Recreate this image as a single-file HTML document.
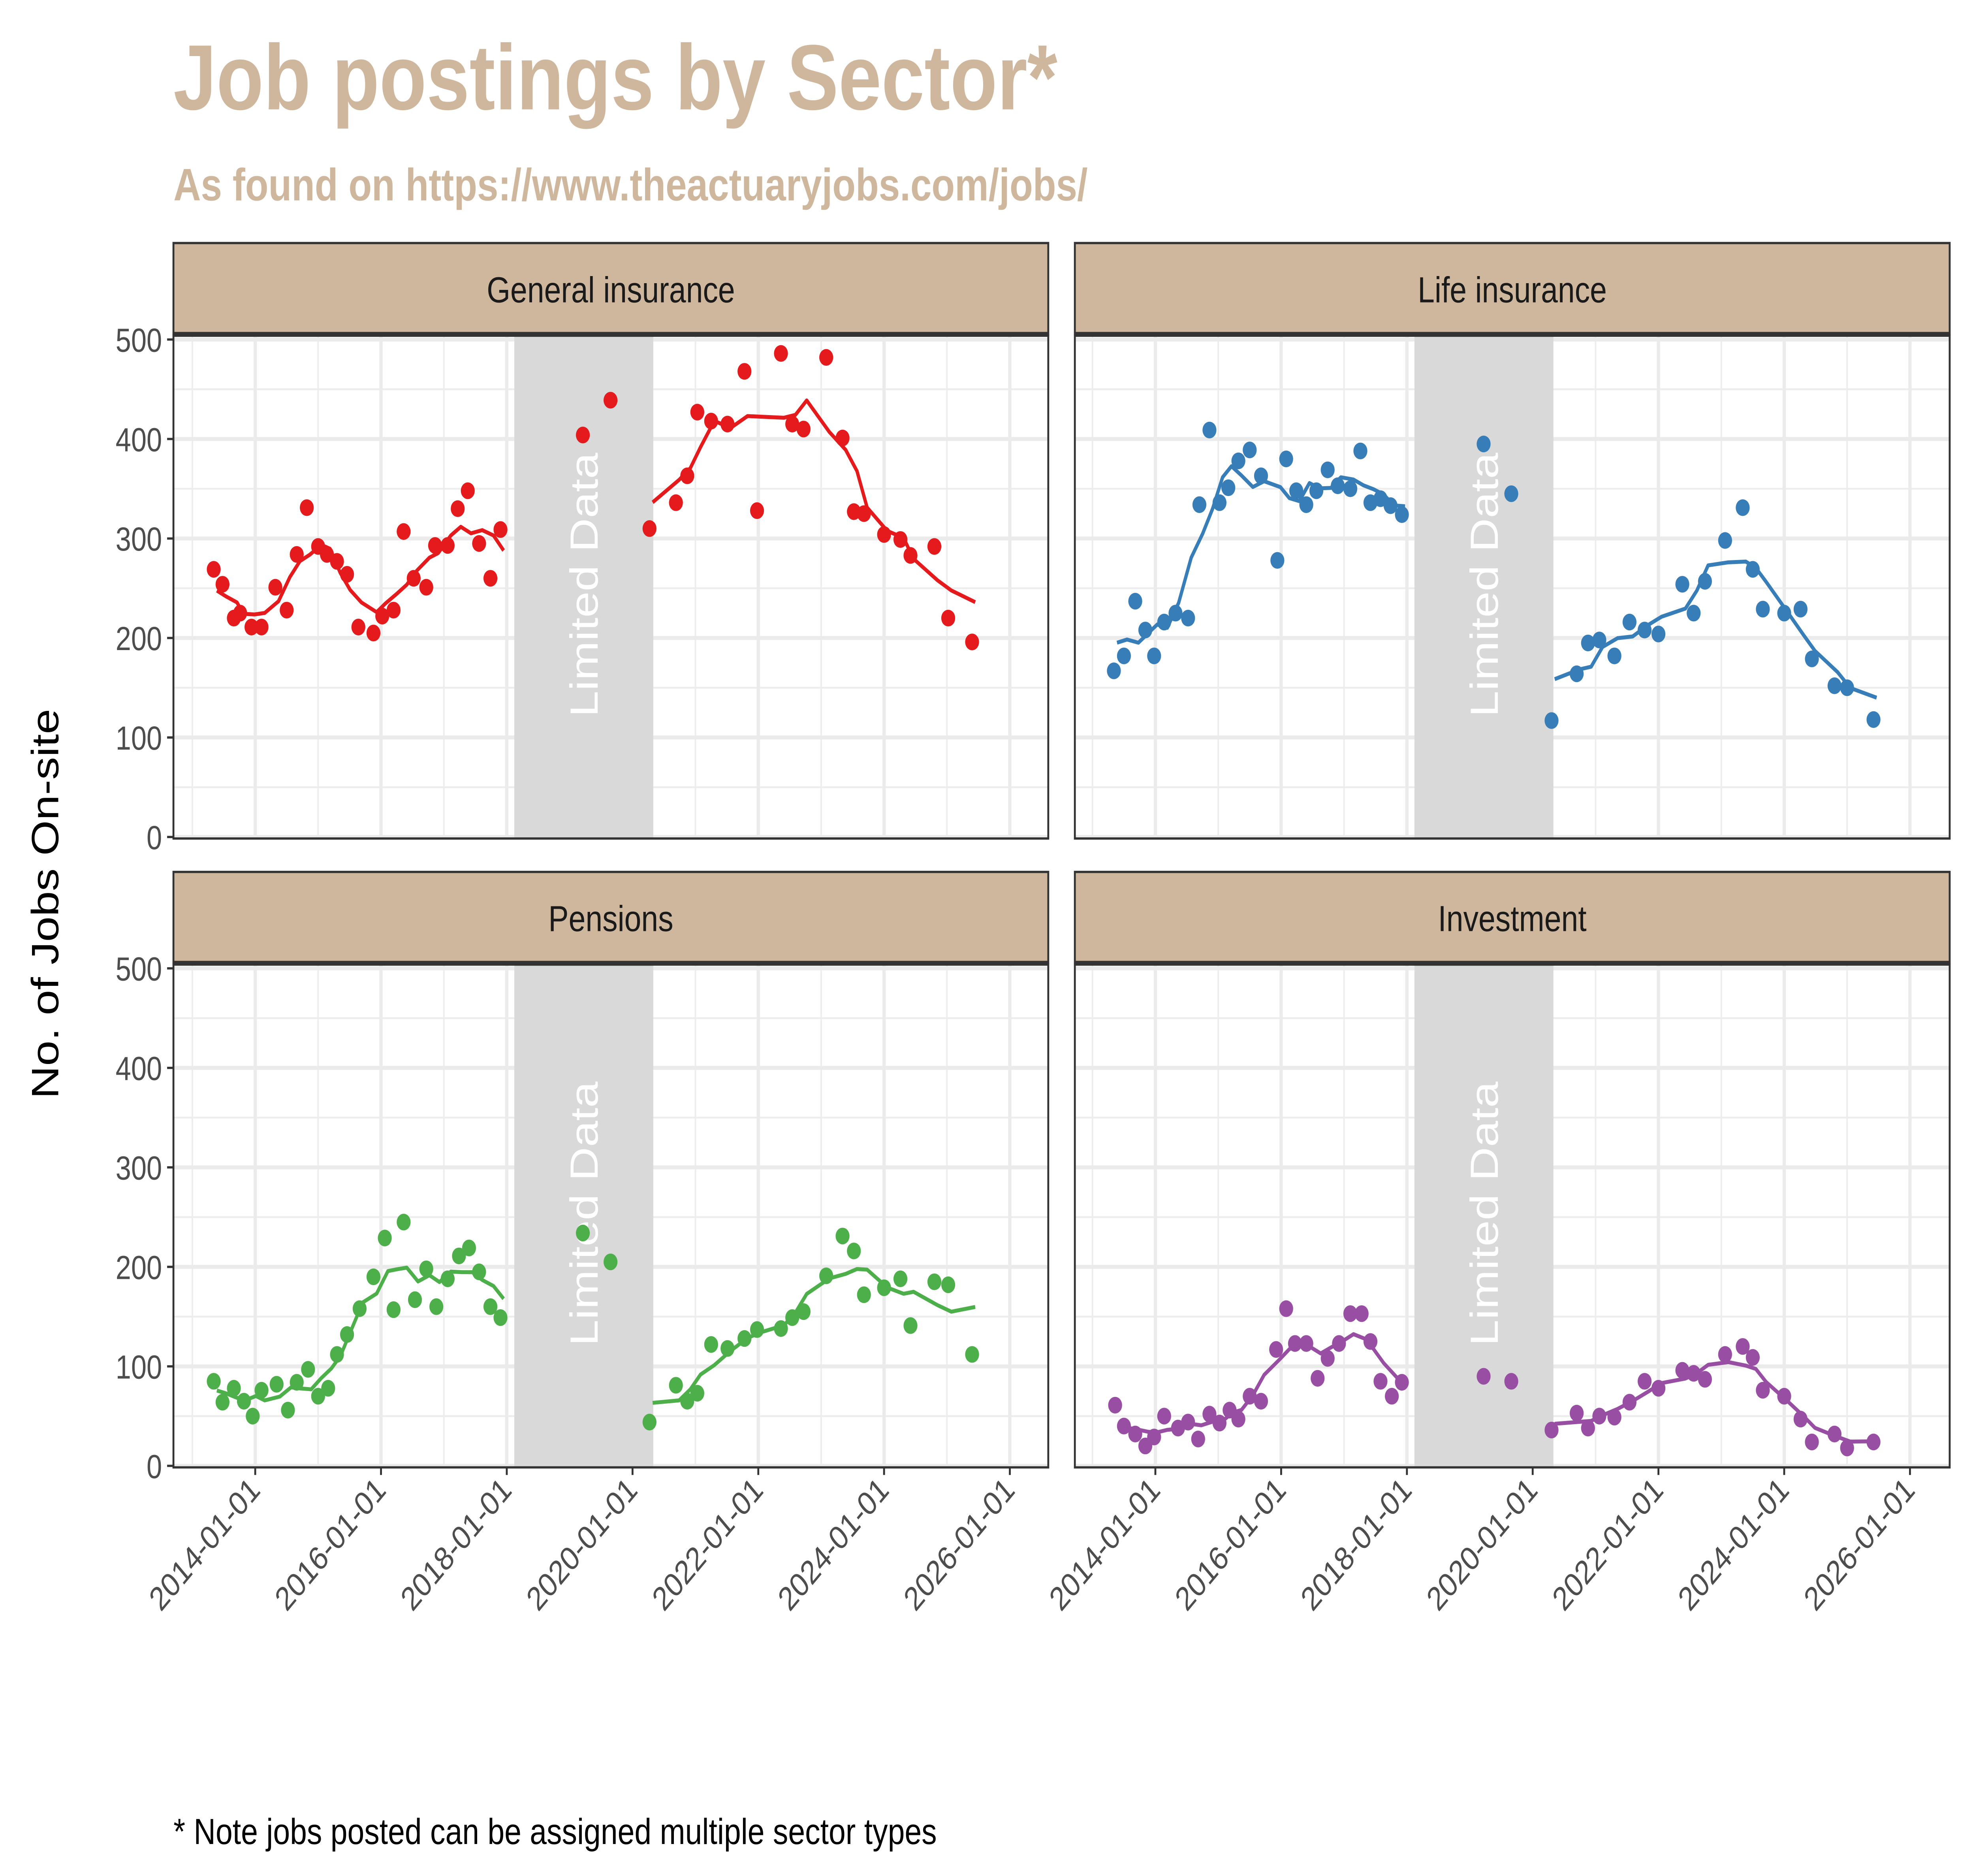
<!DOCTYPE html>
<html><head><meta charset="utf-8"><style>
html,body{margin:0;padding:0;background:#fff;overflow:hidden;}
svg{display:block;width:100vw;height:100vh;}
text{font-family:"Liberation Sans",Arial,sans-serif;}
</style></head><body>
<svg id="chart" viewBox="0 0 1560 1235" preserveAspectRatio="none" xmlns="http://www.w3.org/2000/svg">
<rect width="1560" height="1235" fill="#fff"/>
<text x="137" y="72" font-size="61" font-weight="bold" fill="#cfb79d">Job postings by Sector*</text>
<text x="137" y="132" font-size="30" font-weight="bold" fill="#cfb79d">As found on https://www.theactuaryjobs.com/jobs/</text>
<text transform="translate(46,595) rotate(-90)" text-anchor="middle" font-size="30" fill="#000">No. of Jobs On-site</text>
<text x="137" y="1214" font-size="24" fill="#000">* Note jobs posted can be assigned multiple sector types</text>
<g id="panels"></g>
</svg>
<script>
const sectors = ["General insurance","Life insurance","Pensions","Investment"];
const colors = ["#e41a1c","#377eb8","#4daf4a","#984ea3"];
const yTicks = [0,100,200,300,400,500];
const xTickYears = [2014,2016,2018,2020,2022,2024,2026];
const xTickLabels = ["2014-01-01","2016-01-01","2018-01-01","2020-01-01","2022-01-01","2024-01-01","2026-01-01"];
const gapStart = 2018.12, gapEnd = 2020.33;

const giDates = [2013.34,2013.48,2013.66,2013.76,2013.94,2014.1,2014.32,2014.5,2014.66,2014.82,2015.0,2015.14,2015.3,2015.46,2015.64,2015.88,2016.02,2016.2,2016.36,2016.52,2016.72,2016.86,2017.06,2017.22,2017.38,2017.56,2017.74,2017.9,2019.21,2019.65,2020.27,2020.69,2020.87,2021.03,2021.25,2021.51,2021.78,2021.98,2022.36,2022.54,2022.72,2023.08,2023.34,2023.52,2023.68,2024.0,2024.26,2024.42,2024.8,2025.02,2025.4];
const giValues = [269,254,220,225,211,211,251,228,284,331,292,284,277,264,211,205,222,228,307,260,251,293,293,330,348,295,260,309,404,439,310,336,363,427,418,415,468,328,486,415,410,482,401,327,325,304,299,283,292,220,196];

const liDates = [2013.34,2013.5,2013.68,2013.84,2013.98,2014.14,2014.32,2014.52,2014.7,2014.86,2015.02,2015.16,2015.32,2015.5,2015.68,2015.94,2016.08,2016.24,2016.4,2016.56,2016.74,2016.9,2017.1,2017.26,2017.42,2017.58,2017.74,2017.92,2019.22,2019.66,2020.3,2020.7,2020.88,2021.06,2021.3,2021.54,2021.78,2022.0,2022.38,2022.56,2022.74,2023.06,2023.34,2023.5,2023.66,2024.0,2024.26,2024.44,2024.8,2025.0,2025.42];
const liValues = [167,182,237,208,182,216,225,220,334,409,336,351,378,389,363,278,380,348,334,348,369,353,350,388,336,340,333,324,395,345,117,164,195,198,182,216,208,204,254,225,257,298,331,269,229,225,229,179,152,150,118];

const peDates = [2013.34,2013.48,2013.66,2013.82,2013.96,2014.1,2014.34,2014.52,2014.66,2014.84,2015.0,2015.16,2015.3,2015.46,2015.66,2015.88,2016.06,2016.2,2016.36,2016.54,2016.72,2016.88,2017.06,2017.24,2017.4,2017.56,2017.74,2017.9,2019.21,2019.65,2020.27,2020.69,2020.87,2021.03,2021.25,2021.51,2021.78,2021.98,2022.36,2022.54,2022.72,2023.08,2023.34,2023.52,2023.68,2024.0,2024.26,2024.42,2024.8,2025.02,2025.4];
const peValues = [85,64,78,65,50,76,82,56,84,97,70,78,112,132,158,190,229,157,245,167,198,160,188,211,219,195,160,149,234,205,44,81,65,73,122,118,128,137,138,149,155,191,231,216,172,179,188,141,185,182,112];

const inDates = [2013.36,2013.5,2013.68,2013.84,2013.98,2014.14,2014.36,2014.52,2014.68,2014.86,2015.02,2015.18,2015.32,2015.5,2015.68,2015.92,2016.08,2016.22,2016.4,2016.58,2016.74,2016.92,2017.1,2017.28,2017.42,2017.58,2017.76,2017.92,2019.22,2019.66,2020.3,2020.7,2020.88,2021.06,2021.3,2021.54,2021.78,2022.0,2022.38,2022.56,2022.74,2023.06,2023.34,2023.5,2023.66,2024.0,2024.26,2024.44,2024.8,2025.0,2025.42];
const inValues = [61,40,32,20,29,50,38,44,27,52,43,56,47,70,65,117,158,123,123,88,108,123,153,153,125,85,70,84,90,85,36,53,38,50,49,64,85,78,96,93,87,112,120,109,76,70,47,24,32,18,24];

const allDates=[giDates,liDates,peDates,inDates];
const allValues=[giValues,liValues,peValues,inValues];

const NS="http://www.w3.org/2000/svg";
const root=document.getElementById('panels');
function mk(tag,attrs,parent){const e=document.createElementNS(NS,tag);for(const k in attrs)e.setAttribute(k,attrs[k]);(parent||root).appendChild(e);return e;}

const panelGeo=[{x0:137,x1:828,xo:0,yo:0},{x0:849,x1:1540,xo:711,yo:0},{x0:137,x1:828,xo:0,yo:414},{x0:849,x1:1540,xo:711,yo:414}];

panelGeo.forEach((g,i)=>{
  const xs=t=>201.6+g.xo+(t-2014)*49.67;
  const ys=v=>551+g.yo-v*0.655;
  const top=221+g.yo, bot=552+g.yo;
  const grp=mk('g',{});
  
  
  const strip=mk('rect',{x:g.x0,y:160+g.yo,width:g.x1-g.x0,height:60,fill:'#cfb79d',stroke:'#333','stroke-width':1.5},grp);
  
  
  mk('line',{x1:g.x0,x2:g.x1,y1:220+g.yo,y2:220+g.yo,stroke:'#333','stroke-width':3},grp);
  const st=mk('text',{x:(g.x0+g.x1)/2,y:199+g.yo,'text-anchor':'middle','font-size':24,fill:'#1a1a1a'},grp);
  st.textContent=sectors[i];
  
  
  for(let v=50;v<=550;v+=100){const y=ys(v);if(y>top)mk('line',{x1:g.x0,x2:g.x1,y1:y,y2:y,stroke:'#ededed','stroke-width':1.2},grp);}
  for(let yr=2013;yr<=2027;yr+=2){const x=xs(yr);if(x>g.x0&&x<g.x1)mk('line',{x1:x,x2:x,y1:top,y2:bot,stroke:'#ededed','stroke-width':1.2},grp);}
  yTicks.forEach(v=>mk('line',{x1:g.x0,x2:g.x1,y1:ys(v),y2:ys(v),stroke:'#ebebeb','stroke-width':2.6},grp));
  xTickYears.forEach(yr=>{const x=xs(yr);if(x<g.x1)mk('line',{x1:x,x2:x,y1:top,y2:bot,stroke:'#ebebeb','stroke-width':2.6},grp);});
  const band=mk('rect',{x:xs(gapStart),y:top,width:xs(gapEnd)-xs(gapStart),height:bot-top,fill:'#d9d9d9'},grp);
  
  
  const bx=(xs(gapStart)+xs(gapEnd))/2;
  const bt=mk('text',{transform:`translate(${bx+11},${385+g.yo}) rotate(-90)`,'text-anchor':'middle','font-size':31,fill:'#fff'},grp);
  bt.textContent='Limited Data';
  
  
  const d=allDates[i], v=allValues[i];
  const segs=[];let cur=[0];
  for(let k=1;k<d.length;k++){if(d[k]-d[k-1]>0.5){segs.push(cur);cur=[k];}else cur.push(k);}
  segs.push(cur);
  segs.forEach(s=>{
    if(s.length<3)return;
    let pts=[];
    s.forEach((k,j)=>{
      const lo=Math.max(0,j-2),hi=Math.min(s.length-1,j+2);
      let sum=0,n=0;for(let m=lo;m<=hi;m++){sum+=v[s[m]];n++;}
      pts.push(xs(d[k]+0.05).toFixed(1)+','+ys(sum/n).toFixed(1));
    });
    const pl=mk('polyline',{points:pts.join(' '),fill:'none',stroke:colors[i],'stroke-width':2.6,'stroke-linejoin':'round'},grp);
    
    
  });
  d.forEach((t,k)=>{
    const c=mk('circle',{cx:xs(t),cy:ys(v[k]),r:5.5,fill:colors[i]},grp);
    
    
  });
  mk('rect',{x:g.x0,y:top,width:g.x1-g.x0,height:bot-top,fill:'none',stroke:'#333','stroke-width':1.5},grp);
  if(i%2===0){
    yTicks.forEach(val=>{
      mk('line',{x1:g.x0-5,x2:g.x0,y1:ys(val),y2:ys(val),stroke:'#333','stroke-width':1.5},grp);
      const t=mk('text',{x:g.x0-9,y:ys(val)+8,'text-anchor':'end','font-size':22,fill:'#4d4d4d'},grp);
      t.textContent=val;
      
      
    });
  }
  if(i>=2){
    xTickYears.forEach((yr,j)=>{
      const x=xs(yr);
      mk('line',{x1:x,x2:x,y1:bot,y2:bot+5,stroke:'#333','stroke-width':1.5},grp);
      const t=mk('text',{transform:`translate(${x+5},${bot+16}) rotate(-45)`,'text-anchor':'end','font-size':22,fill:'#4d4d4d'},grp);
      t.textContent=xTickLabels[j];
      
      
    });
  }
});
</script>
</body></html>
